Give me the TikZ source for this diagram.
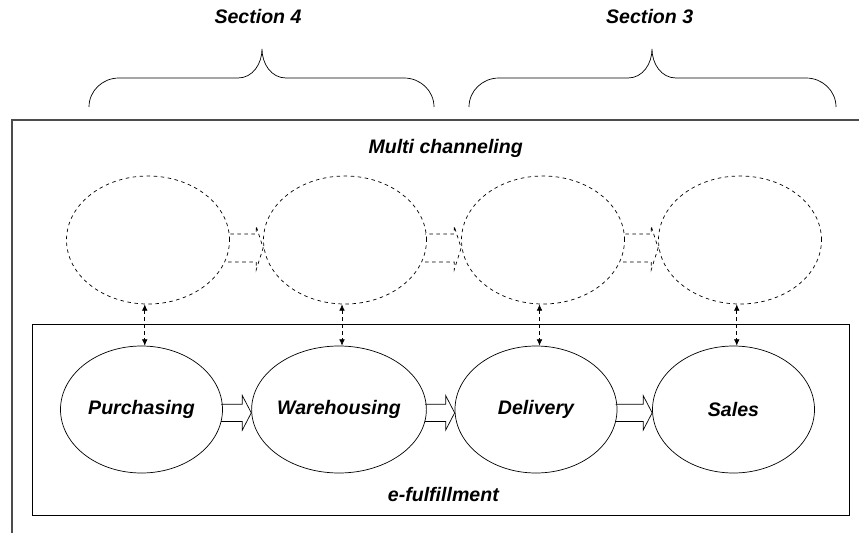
\documentclass[tikz,border=0pt]{standalone}
\usepackage{fontspec}
\setmainfont{Liberation Sans}
\usetikzlibrary{shapes}
\usetikzlibrary{positioning}
\usetikzlibrary{calc}
\usetikzlibrary{arrows.meta}
% #1 style, #2 from, #3 to, #4 y offset, #5 shaft half, #6 head half, #7 head length
\newcommand{\fatarrow}[7]{
  \draw[#1] ($(#2.east)+(-0.05,#4-#5)$) -- ($(#3.west)+(-#7,#4-#5)$) -- ($(#3.west)+(-#7,#4-#6)$)
    -- ($(#3.west)+(0,#4)$)
    -- ($(#3.west)+(-#7,#4+#6)$) -- ($(#3.west)+(-#7,#4+#5)$) -- ($(#2.east)+(-0.05,#4+#5)$);
}
% #1 left end, #2 tip, #3 right end
\newcommand{\secbrace}[3]{
  \draw[line width=0.6pt] (#1,-3.21) to[out=90,in=180] ({#1+0.9},-2.34) -- ({#2-0.72},-2.34)
    to[out=0,in=-90] (#2,-1.47) to[out=-90,in=180] ({#2+0.72},-2.34) -- ({#3-0.9},-2.34)
    to[out=0,in=90] (#3,-3.21);
}

\begin{document}
\begin{tikzpicture}[
  ef/.style={ellipse, draw, line width=0.6pt, minimum width=4.86cm, minimum height=3.81cm, inner sep=0pt},
  mc/.style={ellipse, draw, dashed, line width=0.6pt, minimum width=4.89cm, minimum height=3.84cm, inner sep=0pt},
  lbl/.style={font=\bfseries\itshape\fontsize{16.7}{20}\selectfont},
  vlink/.style={dashed, {Latex[length=1.9mm,width=1.7mm]}-{Latex[length=1.9mm,width=1.7mm]}, line width=0.6pt},
  frame/.style={draw, line width=1pt, black!70}
]
\useasboundingbox (0,0) rectangle (25.77,-15.99);

% sections
\secbrace{2.67}{7.86}{13.02}
\secbrace{14.07}{19.56}{25.08}
\node[lbl] (sec4) at (7.74,-0.51) {Section 4};
\node[lbl] (sec3) at (19.49,-0.51) {Section 3};

% frames
\draw[frame] (0.36,-15.99) |- (25.77,-3.60);
\draw[line width=0.8pt] (0.96,-9.72) rectangle (25.47,-15.45);
\node[lbl, anchor=base] (multi) at (13.37,-4.59) {Multi channeling};
\node[lbl, anchor=base] (efulf) at (13.30,-15.03) {e-fulfillment};

% multi channel
\node[mc] (mc1) at (4.44,-7.20) {};
\node[mc] (mc2) at (10.35,-7.20) {};
\node[mc] (mc3) at (16.29,-7.20) {};
\node[mc] (mc4) at (22.20,-7.20) {};

% e-fulfillment chain
\node[ef, lbl] (ef1) at (4.245,-12.285) {Purchasing};
\node[ef, lbl] (ef2) at (10.17,-12.285) {Warehousing};
\node[ef, lbl] (ef3) at (16.08,-12.285) {Delivery};
\node[ef, lbl] (ef4) at (22.005,-12.285) {Sales};

\fatarrow{dashed, line width=0.6pt}{mc1}{mc2}{-0.24}{0.42}{0.66}{0.21}
\fatarrow{dashed, line width=0.6pt}{mc2}{mc3}{-0.24}{0.42}{0.66}{0.21}
\fatarrow{dashed, line width=0.6pt}{mc3}{mc4}{-0.24}{0.42}{0.66}{0.21}

\fatarrow{line width=0.6pt}{ef1}{ef2}{-0.10}{0.26}{0.52}{0.27}
\fatarrow{line width=0.6pt}{ef2}{ef3}{-0.10}{0.26}{0.52}{0.27}
\fatarrow{line width=0.6pt}{ef3}{ef4}{-0.10}{0.26}{0.52}{0.27}

\foreach \i in {1,...,4}{
  \coordinate (v\i) at ($(mc\i.south)!.5!(ef\i.north)$);
  \draw[vlink] (v\i |- mc\i.south) -- (v\i |- ef\i.north);
}

\end{tikzpicture}
\end{document}
